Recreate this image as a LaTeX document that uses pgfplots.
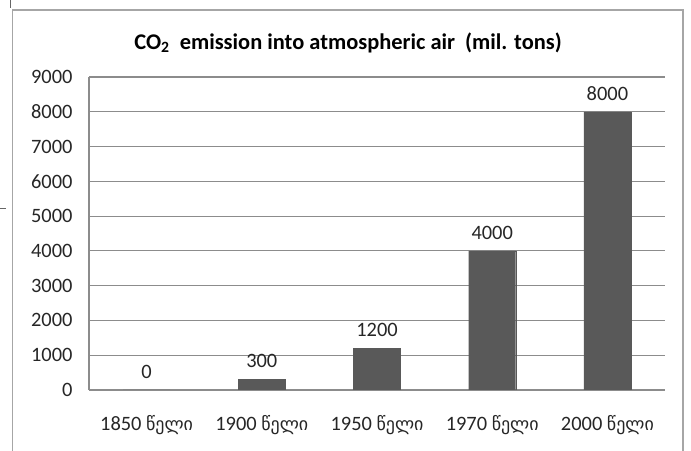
\documentclass[border=0pt]{standalone}
\usepackage{pgfplots}
\pgfplotsset{compat=1.18}
\usepackage{fontspec}
\setmainfont{Carlito}
\newfontfamily\geo{DejaVu Sans}[Scale=0.88]
\definecolor{barc}{HTML}{595959}
\definecolor{gridc}{HTML}{8C8C8C}
\definecolor{framec}{HTML}{A6A6A6}
\begin{document}
\begin{tikzpicture}[x=1bp,y=1bp]
\path[use as bounding box] (0,0) rectangle (691,451);
\draw[framec,line width=1.2bp] (12.5,-2) -- (12.5,441) -- (683,441) -- (683,-2);
\draw[gray!80!black,line width=1bp] (10,451) -- (10,443);
\draw[gray!80!black,line width=1bp] (0,242) -- (6,242);
\node[font=\bfseries\fontsize{22.5}{26}\selectfont] at (348,408) {CO\textsubscript{2}\ \ emission into atmospheric air\ \ (mil. tons)};
\begin{axis}[
  at={(89bp,61bp)}, anchor=south west,
  scale only axis, width=576bp, height=313bp,
  xmin=-0.5, xmax=4.5, ymin=0, ymax=9000,
  ytick={0,1000,...,9000},
  xtick={0,1,2,3,4},
  xticklabels={1850 {\geo წელი},1900 {\geo წელი},1950 {\geo წელი},1970 {\geo წელი},2000 {\geo წელი}},
  axis x line*=bottom, axis y line*=left,
  axis line style={gridc, line width=1.1bp, -},
  major tick length=0pt,
  ymajorgrids, grid style={gridc, line width=1.1bp},
  tick label style={font=\fontsize{20.5}{22}\selectfont, text=black!85},
  /pgf/number format/assume math mode=true,
  /pgf/number format/1000 sep={},
  yticklabel style={xshift=-13bp},
  xticklabel style={yshift=-22bp},
  ybar, bar width=47bp,
  nodes near coords,
  nodes near coords style={font=\fontsize{20.5}{22}\selectfont, text=black!85, yshift=8bp},
]
\addplot[fill=barc, draw=barc] coordinates {(0,0) (1,300) (2,1200) (3,4000) (4,8000)};
\end{axis}
\end{tikzpicture}
\end{document}
